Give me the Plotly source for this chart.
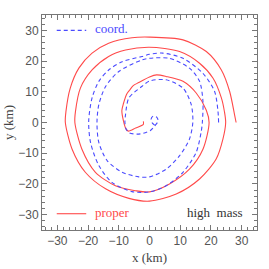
import plotly.graph_objects as go

# "proper" trajectory (km)
proper_x = [28.2, 27.7, 26.1, 23.4, 18.5, 10.9, 0.0, -5.7, -13.3, -18.7, -23.0, -25.8, -27.2, -27.4,
            -25.2, -20.9, -14.3, -6.7, 0.0, 8.7, 16.3, 21.7, 23.9, 24.8,
            24.4, 23.4, 20.7, 16.3, 9.8, 0.0, -7.8, -13.3, -18.7, -22.5, -24.1, -24.3,
            -22.0, -17.6, -11.1, -4.6, 0.0, 6.5, 13.0, 17.4, 19.4,
            18.5, 15.2, 10.9, 5.4, 2.3, 0.0, -3.5, -5.3, -6.5, -7.4, -8.5, -9.0, -8.5, -7.7, -6.9, -4.5, -2.0, -2.0]
proper_y = [0.0, 2.5, 10.1, 17.1, 23.1, 26.9, 27.8, 27.6, 25.8, 22.6, 17.7, 11.2, 3.6, 0.0,
            -8.7, -16.2, -21.6, -24.7, -25.6, -23.3, -18.4, -11.9, -5.4, 0.0,
            3.5, 8.0, 14.4, 19.3, 23.1, 24.5, 23.6, 21.5, 17.1, 11.2, 3.6, 0.0,
            -8.7, -16.2, -20.6, -22.2, -22.6, -20.0, -15.2, -8.7, 0.0,
            4.0, 9.6, 13.4, 15.0, 15.5, 14.8, 13.0, 12.0, 10.5, 9.3, 6.1, 3.9, 0.6, -2.0, -2.8, -1.8, -0.6, 0.4]

# "coord." trajectory (km)
coord_x = [22.5, 22.3, 21.2, 17.4, 10.9, 4.3, 0.0, -2.4, -8.9, -13.3, -16.5, -18.7, -19.8,
           -19.2, -16.5, -12.2, -5.7, 0.0, 5.4, 10.9, 15.2, 16.8, 17.2,
           17.4, 16.3, 13.0, 6.5, 0.0, -2.4, -10.0, -14.3, -16.5, -17.1,
           -16.5, -13.8, -8.9, -3.5, 0.0, 5.4, 9.8, 13.0, 14.1,
           13.6, 10.9, 5.4, 0.0, -2.4, -6.7, -7.8, -8.0, -7.6, -6.5, -4.0, -2.0, 0.3, 1.8, 2.8, 2.4, 1.2, 0.5, 1.0, 2.0]
coord_y = [0.0, 3.6, 10.1, 16.0, 20.9, 22.6, 22.2, 21.5, 19.8, 17.1, 13.4, 8.0, 0.4,
           -6.5, -14.0, -19.5, -22.5, -22.6, -20.6, -16.2, -9.7, -3.2, 0.0,
           6.9, 13.4, 17.7, 20.9, 20.9, 20.4, 16.6, 11.7, 5.8, 0.0,
           -6.5, -12.4, -16.2, -17.7, -17.7, -15.2, -10.8, -5.4, 0.0,
           5.8, 11.2, 13.9, 13.5, 11.8, 8.0, 2.6, 0.0, -2.2, -3.4, -3.8, -3.5, -2.6, -1.0, 0.5, 1.7, 2.1, 1.0, -0.3, -1.0]

RED = "#ff4a4a"
BLUE = "#4a4aff"
SERIF = "Liberation Serif, DejaVu Serif, serif"
SANS = "Liberation Sans, Arial, sans-serif"

fig = go.Figure()
fig.add_trace(go.Scatter(x=proper_x, y=proper_y, mode="lines", name="proper",
                         line=dict(color=RED, width=1.1, shape="spline", smoothing=0.8)))
fig.add_trace(go.Scatter(x=coord_x, y=coord_y, mode="lines", name="coord.",
                         line=dict(color=BLUE, width=1.1, dash="4px,3px", shape="spline", smoothing=0.8)))

# legend-like samples
fig.add_shape(type="line", x0=-30.2, x1=-20.6, y0=30, y1=30, line=dict(color=BLUE, width=1.1, dash="4px,3px"))
fig.add_shape(type="line", x0=-30.2, x1=-20.6, y0=-29.7, y1=-29.7, line=dict(color=RED, width=1.1))
fig.add_annotation(x=-18.3, y=30.6, text="coord.", showarrow=False, xanchor="left",
                   font=dict(family=SERIF, size=13, color=BLUE))
fig.add_annotation(x=-18.3, y=-29.2, text="proper", showarrow=False, xanchor="left",
                   font=dict(family=SERIF, size=13, color=RED))
fig.add_annotation(x=31, y=-29.2, text="high  mass", showarrow=False, xanchor="right",
                   font=dict(family=SERIF, size=13, color="#333"))

# axis titles
fig.add_annotation(xref="paper", yref="paper", x=0.5, y=-0.128, yanchor="middle", text="x (km)",
                   showarrow=False, font=dict(family=SERIF, size=13, color="#444"))
fig.add_annotation(xref="paper", yref="paper", x=-0.156, y=0.5, xanchor="center", yanchor="middle",
                   text="y (km)", textangle=-90, showarrow=False,
                   font=dict(family=SERIF, size=13, color="#444"))

axcommon = dict(range=[-35, 35], showgrid=False, zeroline=False, showline=True, linecolor="#777",
                linewidth=1, mirror="allticks", ticks="inside", ticklen=5, tickcolor="#777",
                automargin=False,
                tickvals=[-30, -20, -10, 0, 10, 20, 30],
                ticktext=["\u221230", "\u221220", "\u221210", "0", "10", "20", "30"],
                tickfont=dict(family=SANS, size=12, color="#555"),
                minor=dict(ticks="inside", ticklen=3, dtick=2, tick0=0, tickcolor="#777", showgrid=False))

fig.update_xaxes(**axcommon)
fig.update_yaxes(**axcommon)

fig.update_layout(width=269, height=269, margin=dict(l=42, r=12, t=15, b=39),
                  plot_bgcolor="white", paper_bgcolor="white", showlegend=False)

fig.write_html("out.html", config={"displayModeBar": False},
               post_script="document.body.style.margin='0';document.body.style.overflow='hidden';")
